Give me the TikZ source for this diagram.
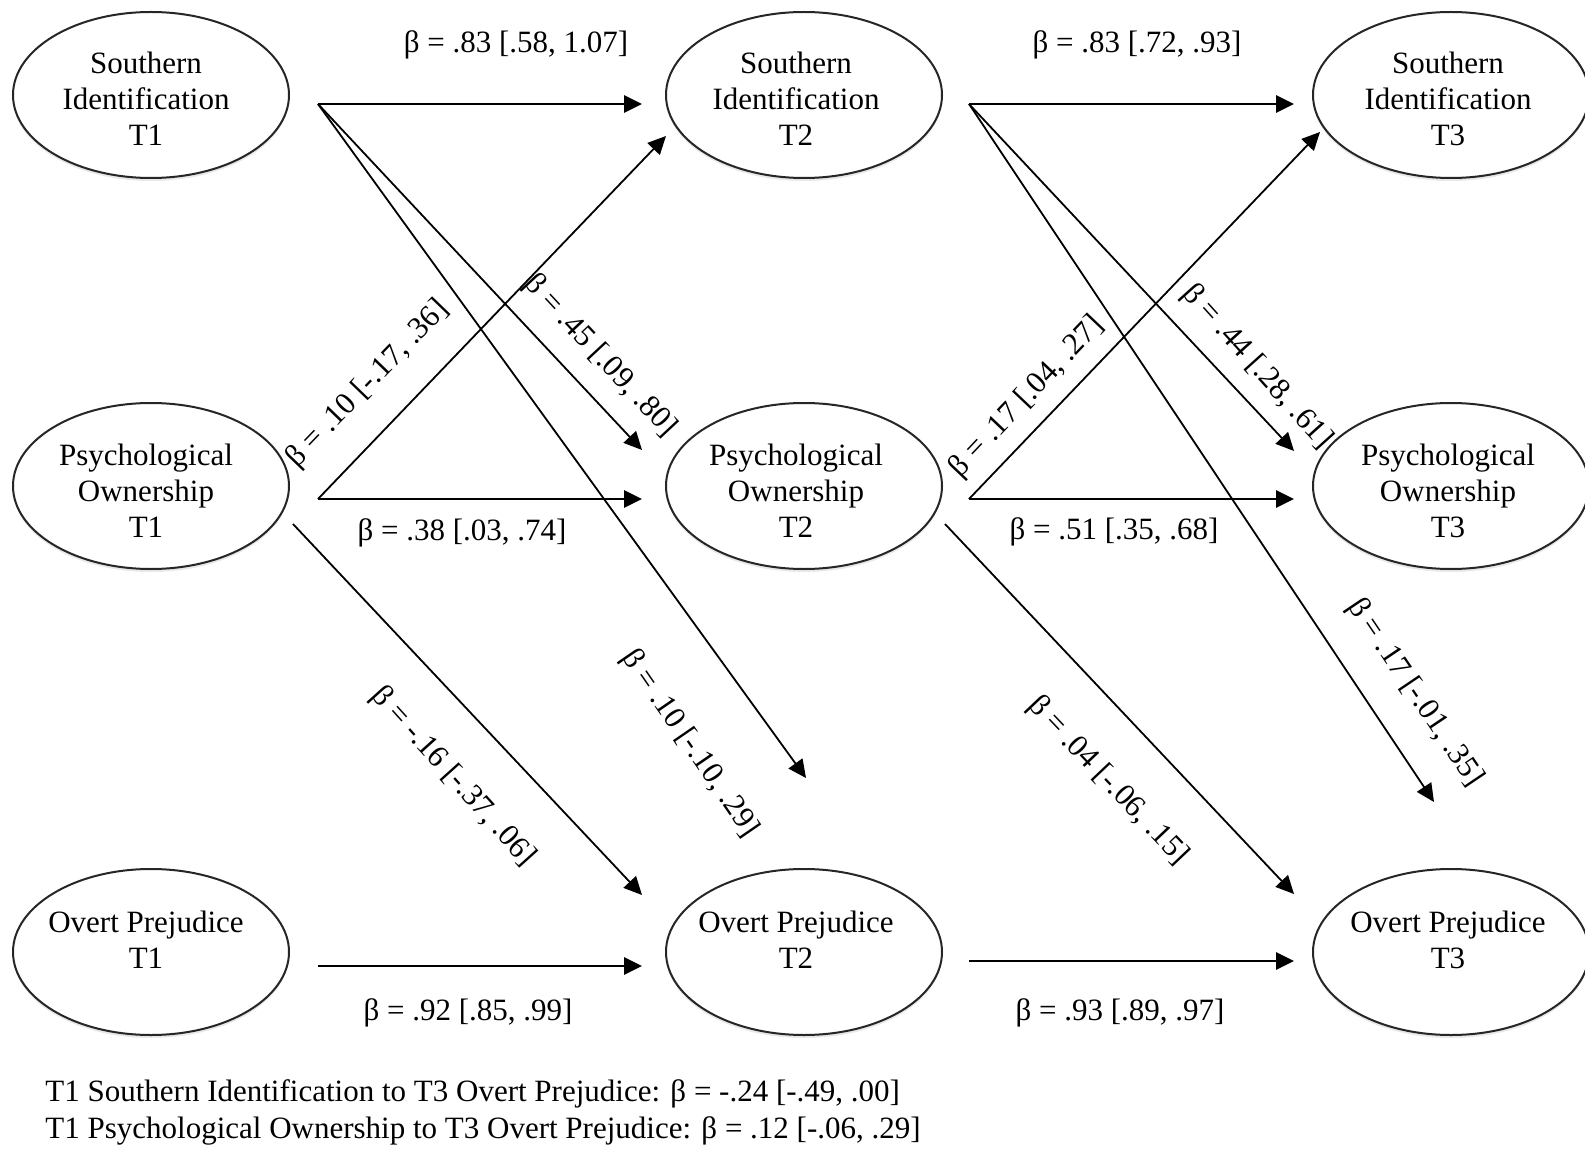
\documentclass[tikz,border=0pt]{standalone}
\usepackage{fontspec}
\setmainfont{Liberation Serif}
\usetikzlibrary{arrows.meta,shadows,shapes.geometric}
\begin{document}
\begin{tikzpicture}[x=0.5pt,y=-0.5pt,
  latent/.style={ellipse, draw=black!85, line width=1pt, minimum width=138pt, minimum height=83pt, inner sep=0pt, fill=white,
    drop shadow={shadow xshift=0pt, shadow yshift=-1.5pt, opacity=0.18}},
  vtext/.style={align=center, font=\fontsize{15.5}{18}\selectfont, inner sep=0pt},
  arr/.style={-{Triangle[length=9pt,width=8.5pt]}, line width=0.9pt},
  harr/.style={arr, line width=1.4pt},
  lab/.style={font=\fontsize{15.5}{18}\selectfont, inner sep=0pt}
]
\useasboundingbox (0,0) rectangle (1585,1150);

% latent variables
\node[latent] (s1) at (151,95) {};
\node[latent] (s2) at (804,95) {};
\node[latent] (s3) at (1451,95) {};
\node[latent] (p1) at (151,486) {};
\node[latent] (p2) at (804,486) {};
\node[latent] (p3) at (1451,486) {};
\node[latent] (o1) at (151,952) {};
\node[latent] (o2) at (804,952) {};
\node[latent] (o3) at (1451,952) {};

\node[vtext] (s1t) at (146,99) {Southern\\Identification\\T1};
\node[vtext] (s2t) at (796,99) {Southern\\Identification\\T2};
\node[vtext] (s3t) at (1448,99) {Southern\\Identification\\T3};
\node[vtext] (p1t) at (146,491) {Psychological\\Ownership\\T1};
\node[vtext] (p2t) at (796,491) {Psychological\\Ownership\\T2};
\node[vtext] (p3t) at (1448,491) {Psychological\\Ownership\\T3};
\node[vtext] (o1t) at (146,940) {Overt Prejudice\\T1};
\node[vtext] (o2t) at (796,940) {Overt Prejudice\\T2};
\node[vtext] (o3t) at (1448,940) {Overt Prejudice\\T3};

% ports
\coordinate (s1o) at (318,104);
\coordinate (s2i) at (642,104);
\coordinate (s2o) at (969,104);
\coordinate (s3i) at (1294,104);
\coordinate (s2il) at (666,136);
\coordinate (s3il) at (1320,132);
\coordinate (p1o) at (318,499);
\coordinate (p2i) at (642,499);
\coordinate (p2ih) at (642,450);
\coordinate (p2o) at (969,499);
\coordinate (p3i) at (1294,499);
\coordinate (p3ih) at (1294,451);
\coordinate (p1od) at (293,524);
\coordinate (p2od) at (945,524);
\coordinate (o2i) at (642,966);
\coordinate (o2id) at (642,895);
\coordinate (o2is) at (806,778);
\coordinate (o3i) at (1294,961);
\coordinate (o3id) at (1294,894);
\coordinate (o3is) at (1434,802);
\coordinate (o1o) at (318,966);
\coordinate (o2o) at (969,961);

% paths
\draw[harr] (s1o) -- (s2i);
\draw[harr] (s2o) -- (s3i);
\draw[harr] (p1o) -- (p2i);
\draw[harr] (p2o) -- (p3i);
\draw[harr] (o1o) -- (o2i);
\draw[harr] (o2o) -- (o3i);
\draw[arr] (p1o) -- (s2il);
\draw[arr] (p2o) -- (s3il);
\draw[arr] (s1o) -- (p2ih);
\draw[arr] (s2o) -- (p3ih);
\draw[arr] (s1o) -- (o2is);
\draw[arr] (s2o) -- (o3is);
\draw[arr] (p1od) -- (o2id);
\draw[arr] (p2od) -- (o3id);

% labels
\node[lab] (l1) at (516,45) {β = .83 [.58, 1.07]};
\node[lab] (l2) at (1137,45) {β = .83 [.72, .93]};
\node[lab] (l3) at (462,533) {β = .38 [.03, .74]};
\node[lab] (l4) at (1114,532) {β = .51 [.35, .68]};
\node[lab] (l5) at (468,1013) {β = .92 [.85, .99]};
\node[lab] (l6) at (1120,1013) {β = .93 [.89, .97]};
\node[lab, rotate=46] (r1) at (368,384) {β = .10 [-.17, .36]};
\node[lab, rotate=-47] (r2) at (600,356) {β = .45 [.09, .80]};
\node[lab, rotate=46.5] (r3) at (1027,397) {β = .17 [.04, .27]};
\node[lab, rotate=-48] (r4) at (1257,367) {β = .44 [.28, .61]};
\node[lab, rotate=-48] (r5) at (453,777) {β = -.16 [-.37, .06]};
\node[lab, rotate=-55.5] (r6) at (690,744) {β = .10 [-.10, .29]};
\node[lab, rotate=-46.5] (r7) at (1108,781) {β = .04 [-.06, .15]};
\node[lab, rotate=-56] (r8) at (1415,693) {β = .17 [-.01, .35]};

% notes
\node[lab, anchor=west] (n1) at (45,1094) {T1 Southern Identification to T3 Overt Prejudice: β = -.24 [-.49, .00]};
\node[lab, anchor=west] (n2) at (45,1131) {T1 Psychological Ownership to T3 Overt Prejudice: β = .12 [-.06, .29]};
\end{tikzpicture}
\end{document}
